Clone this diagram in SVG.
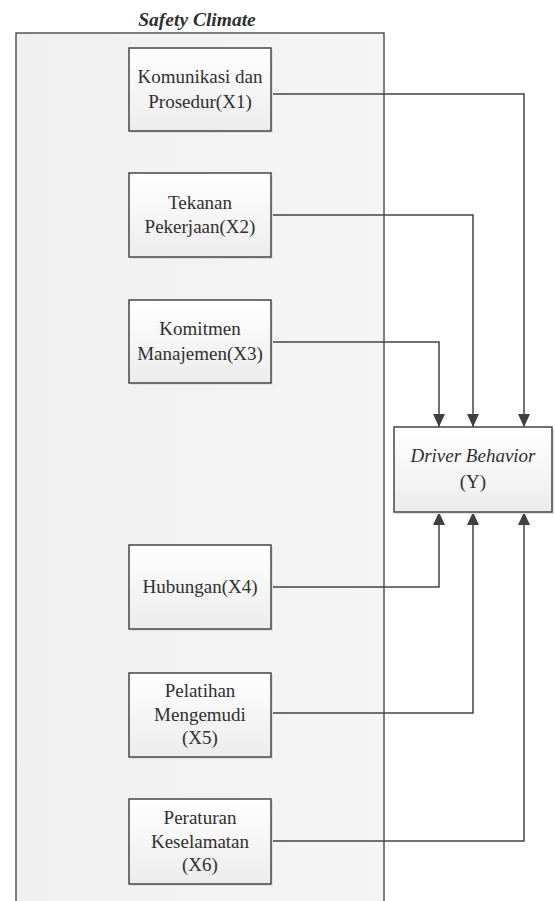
<svg xmlns="http://www.w3.org/2000/svg" width="555" height="901" viewBox="0 0 555 901">
<defs>
<linearGradient id="boxg" x1="0" y1="0" x2="0" y2="1">
<stop offset="0" stop-color="#ffffff"/>
<stop offset="1" stop-color="#ececec"/>
</linearGradient>
<linearGradient id="contg" x1="0" y1="0" x2="1" y2="0">
<stop offset="0" stop-color="#f0f0f0"/>
<stop offset="1" stop-color="#f5f5f5"/>
</linearGradient>
<marker id="arr" viewBox="0 0 13 14" refX="13" refY="7" markerWidth="13" markerHeight="14" markerUnits="userSpaceOnUse" orient="auto">
<path d="M0,1 L13,7 L0,13 Z" fill="#404040"/>
</marker>
</defs>
<style>
.box{fill:url(#boxg);stroke:#454545;stroke-width:1.5}
.shadow{fill:#e0e0e0;stroke:none}
.t{font-family:"Liberation Serif","Times New Roman",serif;font-size:19px;fill:#303030;text-anchor:middle}
.c{fill:none;stroke:#444;stroke-width:1.5}
</style>
<rect width="555" height="901" fill="#ffffff"/>
<g id="safety-climate">
<rect x="16" y="33" width="368" height="880" fill="url(#contg)" stroke="#555" stroke-width="1.5"/>
<text x="197" y="26" font-family="'Liberation Serif','Times New Roman',serif" font-size="19.5" font-weight="bold" font-style="italic" fill="#303030" text-anchor="middle">Safety Climate</text>
</g>
<g id="connectors">
<polyline class="c" points="271,94 524,94 524,427" marker-end="url(#arr)"/>
<polyline class="c" points="271,215 473,215 473,427" marker-end="url(#arr)"/>
<polyline class="c" points="271,342 439,342 439,427" marker-end="url(#arr)"/>
<polyline class="c" points="271,587 439,587 439,512" marker-end="url(#arr)"/>
<polyline class="c" points="271,713 473,713 473,512" marker-end="url(#arr)"/>
<polyline class="c" points="271,841 524,841 524,512" marker-end="url(#arr)"/>
</g>
<g id="x1">
<rect class="shadow" x="131" y="50" width="142" height="83"/>
<rect class="box" x="129" y="48" width="142" height="83"/>
<text class="t" x="200" y="83">Komunikasi dan</text>
<text class="t" x="200" y="108">Prosedur(X1)</text>
</g>
<g id="x2">
<rect class="shadow" x="131" y="175" width="142" height="84"/>
<rect class="box" x="129" y="173" width="142" height="84"/>
<text class="t" x="200" y="209">Tekanan</text>
<text class="t" x="200" y="233">Pekerjaan(X2)</text>
</g>
<g id="x3">
<rect class="shadow" x="131" y="302" width="142" height="83"/>
<rect class="box" x="129" y="300" width="142" height="83"/>
<text class="t" x="200" y="335">Komitmen</text>
<text class="t" x="200" y="360">Manajemen(X3)</text>
</g>
<g id="x4">
<rect class="shadow" x="131" y="547" width="142" height="84"/>
<rect class="box" x="129" y="545" width="142" height="84"/>
<text class="t" x="200" y="593">Hubungan(X4)</text>
</g>
<g id="x5">
<rect class="shadow" x="131" y="675" width="142" height="84"/>
<rect class="box" x="129" y="673" width="142" height="84"/>
<text class="t" x="200" y="697">Pelatihan</text>
<text class="t" x="200" y="721">Mengemudi</text>
<text class="t" x="200" y="744">(X5)</text>
</g>
<g id="x6">
<rect class="shadow" x="131" y="801" width="142" height="85"/>
<rect class="box" x="129" y="799" width="142" height="85"/>
<text class="t" x="200" y="824">Peraturan</text>
<text class="t" x="200" y="848">Keselamatan</text>
<text class="t" x="200" y="871">(X6)</text>
</g>
<g id="y">
<rect class="shadow" x="396" y="429" width="158" height="85"/>
<rect class="box" x="394" y="427" width="158" height="85"/>
<text class="t" x="473" y="462" font-style="italic">Driver Behavior</text>
<text class="t" x="473" y="488">(Y)</text>
</g>
</svg>
